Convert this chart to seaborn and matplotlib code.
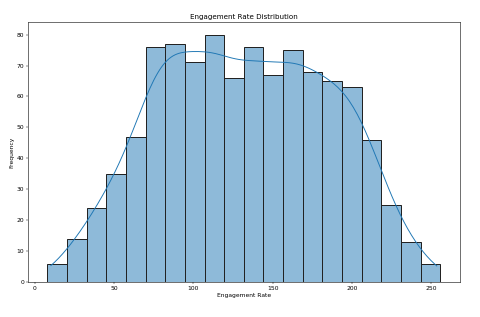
import numpy as np
import pandas as pd
import seaborn as sns
import matplotlib
matplotlib.use('Agg')
import matplotlib.pyplot as plt

# histogram counts (20 bins)
counts = [6, 14, 24, 35, 47, 76, 77, 71, 80, 66, 76, 67, 75, 68, 65, 63, 46, 25, 13, 6]
rate_min = 7.9
rate_max = 255.8

edges = np.linspace(rate_min, rate_max, len(counts) + 1)
centers = (edges[:-1] + edges[1:]) / 2
df = pd.DataFrame({'rate': centers, 'n': counts})

plt.rcParams['font.size'] = 10.7
fig = plt.figure(figsize=(12, 7.925), dpi=40)
ax = fig.add_axes([0.058, 0.11, 0.9, 0.82])

sns.histplot(data=df, x='rate', weights='n', bins=len(counts),
             binrange=(rate_min, rate_max), kde=True,
             kde_kws={'bw_adjust': 0.4, 'cut': 0.25},
             line_kws={'linewidth': 1.7},
             edgecolor='#222222', linewidth=1.8, ax=ax)

ax.set_title('Engagement Rate Distribution', fontsize=12.8)
ax.set_xlabel('Engagement Rate')
ax.set_ylabel('Frequency')
for s in ax.spines.values():
    s.set_linewidth(1.0)

fig.savefig('out.png', dpi=40)
